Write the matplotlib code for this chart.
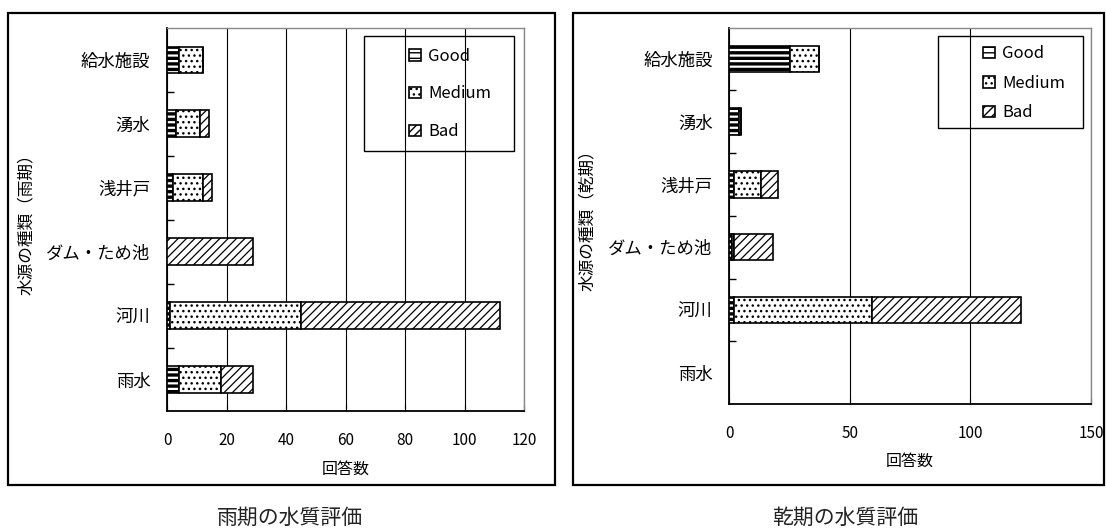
import matplotlib
matplotlib.use("Agg")
import matplotlib.pyplot as plt
from matplotlib.patches import Patch, Rectangle
import numpy as np

plt.rcParams['font.family'] = ['Noto Sans CJK JP', 'DejaVu Sans']

categories = ['給水施設', '湧水', '浅井戸', 'ダム・ため池', '河川', '雨水']
levels = ['Good', 'Medium', 'Bad']

rainy_good = [4, 3, 2, 0, 1, 4]
rainy_medium = [8, 8, 10, 0, 44, 14]
rainy_bad = [0, 3, 3, 29, 67, 11]

dry_good = [25, 4, 2, 1, 2, 0]
dry_medium = [12, 1, 11, 1, 57, 0]
dry_bad = [0, 0, 7, 16, 62, 0]

rainy_ticks = [0, 20, 40, 60, 80, 100, 120]
dry_ticks = [0, 50, 100, 150]

hatches = {'Good': '---', 'Medium': '...', 'Bad': '////'}
hatch_lw = {'Good': 2.4, 'Medium': 1.0, 'Bad': 0.9}


def set_hlw(p, lw):
    if hasattr(p, 'set_hatch_linewidth'):
        p.set_hatch_linewidth(lw)


def draw_panel(ax, good, medium, bad, ticks, ylabel, leg_anchor, leg_spacing):
    y = np.arange(len(categories))
    left = np.zeros(len(categories))
    for name, vals in zip(levels, [good, medium, bad]):
        with plt.rc_context({'hatch.linewidth': hatch_lw[name]}):
            bars = ax.barh(y, vals, left=left, height=0.42, color='white',
                           edgecolor='black', linewidth=1.2, hatch=hatches[name],
                           zorder=3)
        for b in bars:
            set_hlw(b, hatch_lw[name])
        left = left + np.array(vals)

    ax.set_ylim(len(categories) - 0.5, -0.5)
    ax.set_yticks(y)
    ax.set_yticklabels(categories, fontsize=12.5)
    ax.set_yticks(np.arange(len(categories) - 1) + 0.5, minor=True)
    ax.tick_params(axis='y', which='major', length=0, pad=12)
    ax.tick_params(axis='y', which='minor', direction='in', length=5, width=1)

    ax.set_xlim(ticks[0], ticks[-1])
    ax.set_xticks(ticks)
    ax.tick_params(axis='x', direction='in', length=4, pad=15, labelsize=11)
    ax.grid(axis='x', color='black', linewidth=0.8, zorder=0)
    ax.set_xlabel('回答数', fontsize=11.5, labelpad=8)
    ax.set_ylabel(ylabel, fontsize=12)
    ax.yaxis.set_label_coords(-0.37, 0.5)

    for s in ['left', 'bottom']:
        ax.spines[s].set_linewidth(1.3)
    for s in ['top', 'right']:
        ax.spines[s].set_color('#888888')
        ax.spines[s].set_linewidth(1.0)

    handles = []
    for name in levels:
        with plt.rc_context({'hatch.linewidth': 1.4}):
            h = Patch(facecolor='white', edgecolor='black', linewidth=1.2,
                      hatch=hatches[name], label=name)
        set_hlw(h, 1.4)
        handles.append(h)
    leg = ax.legend(handles=handles, loc='center left', bbox_to_anchor=leg_anchor,
                    frameon=False, fontsize=12, handlelength=0.7,
                    handleheight=0.7, handletextpad=0.45, borderpad=0,
                    labelspacing=leg_spacing)
    leg.set_zorder(5)
    return leg


fig = plt.figure(figsize=(11.06, 5.30), dpi=100)

ax1 = fig.add_axes([0.1510, 0.2236, 0.3228, 0.7236])
draw_panel(ax1, rainy_good, rainy_medium, rainy_bad, rainy_ticks,
           '水源の種類（雨期）', (0.655, 0.828), 1.25)
ax1.add_patch(Rectangle((0.551, 0.679), 0.421, 0.300, transform=ax1.transAxes,
                        facecolor='none', edgecolor='black', linewidth=1.0,
                        zorder=6, clip_on=False))

ax2 = fig.add_axes([0.6594, 0.2377, 0.3270, 0.7104])
draw_panel(ax2, dry_good, dry_medium, dry_bad, dry_ticks,
           '水源の種類（乾期）', (0.679, 0.852), 0.75)
ax2.add_patch(Rectangle((0.578, 0.733), 0.400, 0.244, transform=ax2.transAxes,
                        facecolor='none', edgecolor='black', linewidth=1.0,
                        zorder=6, clip_on=False))

# outer frames around each chart
fig.add_artist(Rectangle((8 / 1106, 45 / 530), 547 / 1106, 472 / 530,
                         transform=fig.transFigure, facecolor='none',
                         edgecolor='black', linewidth=1.6))
fig.add_artist(Rectangle((573 / 1106, 45 / 530), 531 / 1106, 472 / 530,
                         transform=fig.transFigure, facecolor='none',
                         edgecolor='black', linewidth=1.6))

fig.text(290 / 1106, 12 / 530, '雨期の水質評価', ha='center', va='center', fontsize=15,
         color='#222222')
fig.text(845 / 1106, 12 / 530, '乾期の水質評価', ha='center', va='center', fontsize=15,
         color='#222222')

fig.savefig('out.png', dpi=100)
